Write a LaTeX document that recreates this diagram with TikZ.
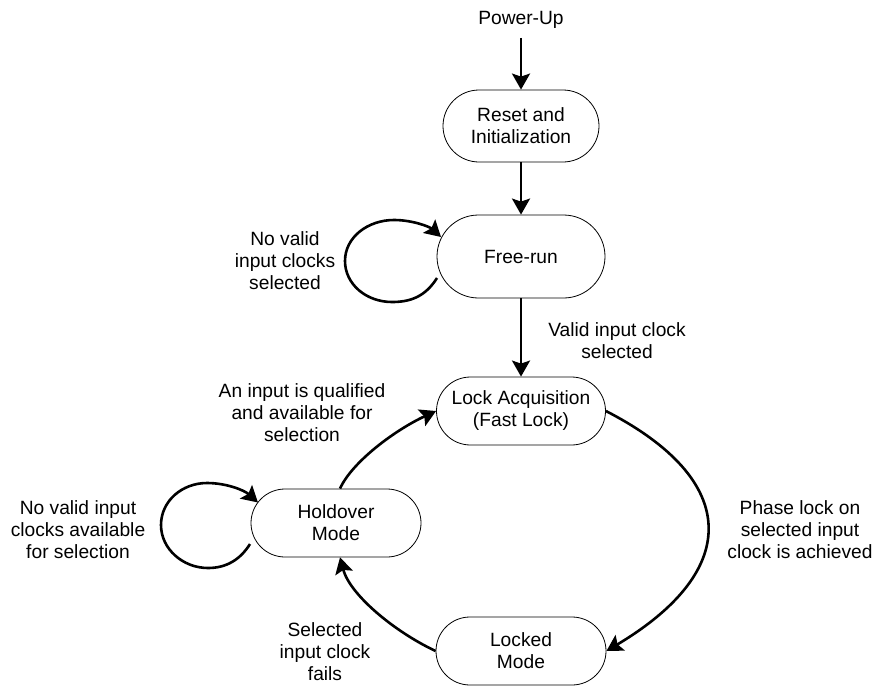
\documentclass[tikz,border=0pt]{standalone}
\usepackage{fontspec}
\setmainfont{Liberation Sans}
\usetikzlibrary{arrows.meta,calc}
\begin{document}
\begin{tikzpicture}[x=1pt,y=-1pt,
  every node/.style={font=\fontsize{19.2}{22}\selectfont},
  state/.style={rectangle, draw, line width=0.8pt, rounded corners=34pt,
    minimum width=169pt, minimum height=68pt, align=center, inner sep=2pt},
  lbl/.style={align=center, inner sep=0pt},
  arr/.style={line width=2.6pt, -{Stealth[length=16pt,width=18pt,inset=3pt]}}]
\path[use as bounding box] (0,0) rectangle (874,685);

% states
\node[lbl] (power) at (521,20) {Power-Up};
\node[state, minimum width=156pt, minimum height=72pt, rounded corners=36pt] (reset) at (521,126) {Reset and\\Initialization};
\node[state, minimum width=168pt, minimum height=83pt, rounded corners=41.5pt] (free) at (521,256.5) {Free-run};
\node[state] (lock) at (521,411) {Lock Acquisition\\(Fast Lock)};
\node[state, minimum width=170pt] (hold) at (336,523) {Holdover\\Mode};
\node[state, minimum width=170pt] (locked) at (521,651) {Locked\\Mode};

% labels
\node[lbl] (lfree) at (285,261) {No valid\\input clocks\\selected};
\node[lbl] (lvalid) at (617,341) {Valid input clock\\selected};
\node[lbl] (lqual) at (302,413) {An input is qualified\\and available for\\selection};
\node[lbl] (lhold) at (78,530) {No valid input\\clocks available\\for selection};
\node[lbl] (lphase) at (800,530) {Phase lock on\\selected input\\clock is achieved};
\node[lbl] (lfail) at (325,652) {Selected\\input clock\\fails};

% helper coordinates on the node borders
\coordinate (fs) at ($(free.center)+(-84,21.5)$);
\coordinate (fe) at ($(free.center)+(-80,-19.5)$);
\coordinate (hs) at ($(hold.center)+(-86,21)$);
\coordinate (he) at ($(hold.center)+(-78,-20.5)$);
\coordinate (hn) at ($(hold.north)+(4,0)$);
\coordinate (hb) at ($(hold.south)+(4,0)$);

% straight transitions
\draw[arr, shorten <=9pt] (power.south) -- (reset.north);
\draw[arr] (reset.south) -- (free.north);
\draw[arr] (free.south) -- (lock.north);

% free-run self loop
\draw[arr] (fs) .. controls (425,297) and (410,302) .. (392,302)
  .. controls (366,302) and (345,284) .. (345,261)
  .. controls (345,237) and (368,220) .. (394,220)
  .. controls (413,220) and (430,227) .. (fe);

% holdover self loop
\draw[arr] (hs) .. controls (240,560) and (226,568) .. (208,568)
  .. controls (183,568) and (161,549) .. (161,525)
  .. controls (161,501) and (182,483) .. (207,483)
  .. controls (226,483) and (244,490) .. (he);

% curved transitions
\draw[arr] (lock.east) .. controls (740,480) and (742,570) .. (locked.east);
\draw[arr] (locked.west) .. controls (395,632) and (350,595) .. (hb);
\draw[arr] (hn) .. controls (352,462) and (395,430) .. (lock.west);
\end{tikzpicture}
\end{document}
